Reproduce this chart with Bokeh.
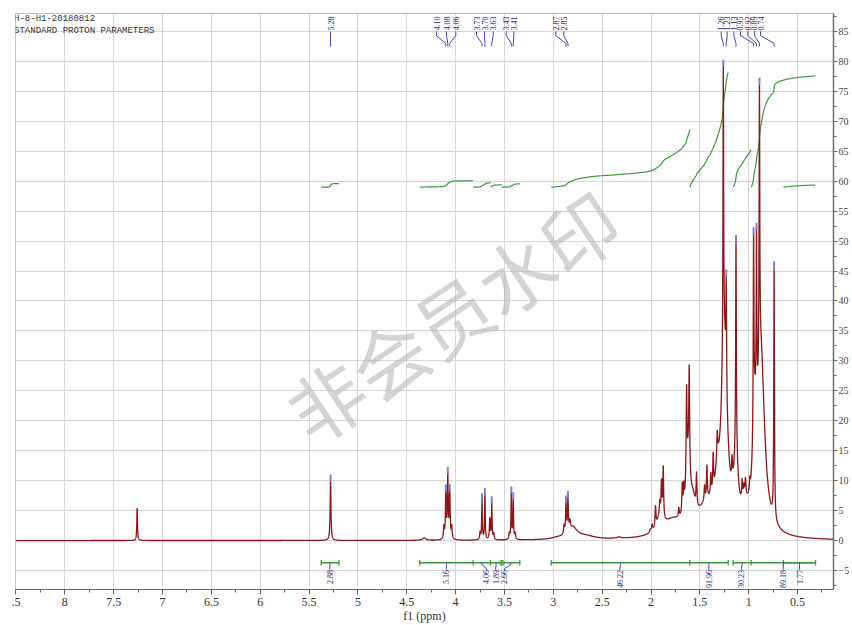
import numpy as np
from bokeh.plotting import figure
from bokeh.models import Range1d, SingleIntervalTicker, Label
from bokeh.core.properties import value
from bokeh.embed import file_html
from bokeh.resources import INLINE

# ---------------- data ----------------
# spectrum lines: centre (ppm), height (intensity), half width (ppm)
line_ppm = [7.26, 5.28, 4.32,
            4.12, 4.10, 4.08, 4.06, 4.04,
            3.75, 3.73, 3.70, 3.65, 3.63, 3.61,
            3.45, 3.43, 3.41, 3.39,
            2.89, 2.87, 2.85, 2.83, 2.80, 2.68, 2.95, 2.33,
            2.005, 1.988, 1.954, 1.91, 1.893, 1.875, 1.91, 1.78,
            1.715, 1.68, 1.664, 1.62, 1.636, 1.609, 1.57,
            1.534, 1.452, 1.428, 1.388, 1.364, 1.322, 1.43, 1.32,
            1.25, 1.26, 1.23,
            1.17, 1.13, 1.13,
            1.067, 1.05, 1.033, 0.989, 1.04,
            0.875, 0.94, 0.95, 0.92, 0.89, 0.74]
line_height = [5.4, 10.0, 0.4,
               2.0, 7.5, 10.3, 7.5, 2.0,
               1.2, 6.6, 7.5, 3.5, 6.0, 1.0,
               1.0, 7.6, 6.6, 1.0,
               1.5, 5.0, 5.5, 1.5, 1.8, 0.6, 0.3, 0.2,
               0.5, 1.0, 3.3, 2.0, 5.5, 8.5, 2.5, 2.5,
               1.5, 4.7, 3.5, 10.0, 15.0, 16.5, 3.0,
               5.5, 2.5, 5.5, 3.5, 6.0, 4.0, 4.5, 5.0,
               30.0, 47.5, 17.5,
               4.0, 10.0, 35.0,
               3.0, 1.5, 2.5, 2.0, 3.0,
               30.0, 12.0, 31.5, 28.5, 46.0, 42.0]
line_hw = [0.004, 0.005, 0.02,
           0.005, 0.005, 0.005, 0.005, 0.005,
           0.005, 0.004, 0.004, 0.005, 0.004, 0.005,
           0.005, 0.004, 0.004, 0.005,
           0.006, 0.005, 0.005, 0.006, 0.05, 0.12, 0.08, 0.03,
           0.01, 0.005, 0.005, 0.005, 0.005, 0.005, 0.04, 0.12,
           0.005, 0.005, 0.005, 0.025, 0.005, 0.005, 0.03,
           0.005, 0.005, 0.005, 0.005, 0.005, 0.005, 0.12, 0.03,
           0.035, 0.004, 0.004,
           0.006, 0.025, 0.004,
           0.005, 0.005, 0.005, 0.005, 0.04,
           0.045, 0.02, 0.004, 0.004, 0.004, 0.004]

# picked peaks (ppm)
picked_ppm = [5.28, 4.10, 4.08, 4.06, 3.73, 3.70, 3.63, 3.43, 3.41, 2.87, 2.85,
              1.26, 1.23, 1.13, 0.95, 0.92, 0.89, 0.74]

# integral regions (ppm) and values
integral_start = [5.376, 4.367, 3.820, 3.643, 3.527, 3.021, 1.603, 1.159, 0.975, 0.645]
integral_end = [5.195, 3.820, 3.643, 3.527, 3.343, 1.603, 1.210, 0.975, 0.316, 0.316]
integral_value = [2.88, 5.16, 4.06, 1.89, 2.66, 46.22, 91.96, 30.23, 89.18, 1.77]

title_lines = ["H-8-H1-20180812", "STANDARD PROTON PARAMETERS"]
x_axis_title = "f1 (ppm)"
watermark = "非会员水印"

# ---------------- layout ----------------
X_LEFT, X_RIGHT = 8.505, 0.132
Y_BOTTOM, Y_TOP = -8.17, 88.0
picked_label_x = [5.28, 4.195, 4.093, 3.998, 3.786, 3.704, 3.615, 3.482, 3.404,
                  2.974, 2.893, 1.281, 1.220, 1.152, 1.084, 1.009, 0.941, 0.879]
integral_label_x = [5.29, 4.096, 3.684, 3.59, 3.50, 2.319, 1.408, 1.074, 0.647, 0.48]
INT_BASE = 59.0
INT_SCALE = 4.8
BAR_Y = -3.7

RED = "#8B1818"
GREEN = "#3A9A3A"
BLUE_TXT = "#22227A"
BLUE_LN = "#4545A5"
MARK = "#8080CC"
SERIF = "Liberation Serif"

ppm = np.arange(X_RIGHT, X_LEFT, 0.0005)
spec = np.zeros_like(ppm)
for c, h, w in zip(line_ppm, line_height, line_hw):
    spec += h * w * w / (w * w + (ppm - c) ** 2)

p = figure(width=852, height=625,
           x_range=Range1d(X_LEFT, X_RIGHT), y_range=Range1d(Y_BOTTOM, Y_TOP),
           y_axis_location="right", output_backend="svg", toolbar_location=None,
           min_border_left=15, min_border_right=19, min_border_top=13, min_border_bottom=35)

p.background_fill_color = "white"
p.border_fill_color = "white"
p.outline_line_color = "#BEBEBE"

xa = p.xaxis[0]
xa.ticker = SingleIntervalTicker(interval=0.5, num_minor_ticks=2)
xa.major_label_overrides = {8.5: ".5"}
xa.axis_line_color = "#666666"
xa.major_tick_line_color = "#666666"
xa.minor_tick_line_color = "#666666"
xa.major_tick_in = 0
xa.major_tick_out = 5
xa.minor_tick_in = 0
xa.minor_tick_out = 3
xa.major_label_standoff = 3
xa.major_label_text_font = SERIF
xa.major_label_text_font_size = "12px"
xa.major_label_text_color = "#333333"
xa.axis_label = x_axis_title
xa.axis_label_standoff = 0
xa.axis_label_text_font = SERIF
xa.axis_label_text_font_size = "12px"
xa.axis_label_text_font_style = "normal"
xa.axis_label_text_color = "#333333"

ya = p.yaxis[0]
ya.ticker = SingleIntervalTicker(interval=5, num_minor_ticks=2)
ya.axis_line_color = "#6E6E6E"
ya.axis_line_width = 1.5
ya.major_tick_line_color = "#6E6E6E"
ya.minor_tick_line_color = "#6E6E6E"
ya.major_tick_in = 0
ya.major_tick_out = 4
ya.minor_tick_in = 0
ya.minor_tick_out = 3
ya.major_label_standoff = 1
ya.axis_label_standoff = 0
ya.major_label_text_font = SERIF
ya.major_label_text_font_size = "10px"
ya.major_label_text_color = "#444444"

p.xgrid.grid_line_color = "#D6D6D6"
p.ygrid.grid_line_color = "#D6D6D6"

# watermark
p.add_layout(Label(x=4.04, y=37.7, text=watermark, angle=0.59, angle_units="rad",
                   text_align="center", text_baseline="middle",
                   text_font="Noto Sans CJK SC", text_font_size="76px",
                   text_color="#B8B8B8", text_alpha=0.6))

# integral curves
for s, e, v in zip(integral_start, integral_end, integral_value):
    m = (ppm <= s) & (ppm >= e)
    xs = ppm[m][::-1]
    ys = spec[m][::-1]
    cum = np.cumsum(ys)
    frac = cum / cum[-1]
    p.line(xs, INT_BASE + frac * v / INT_SCALE, color=GREEN, line_width=1.2)

# spectrum
p.line(ppm, spec, color=RED, line_width=1.3)

# picked peak markers and labels
apex = [float(np.interp(x, ppm, spec)) for x in picked_ppm]
p.segment(x0=picked_ppm, y0=[a - 0.2 for a in apex], x1=picked_ppm, y1=[a + 1.0 for a in apex],
          color=MARK, line_width=2)
conn_x = [[lx, lx, px, px] for lx, px in zip(picked_label_x, picked_ppm)]
conn_y = [[85.0, 84.3, 83.0, 82.5] for _ in picked_ppm]
p.multi_line(conn_x, conn_y, color=BLUE_LN, line_width=1)
p.text(x=picked_label_x, y=[85.15] * len(picked_ppm), text=[f"{v:.2f}" for v in picked_ppm],
       angle=np.pi / 2, text_align="left", text_baseline="middle",
       text_font=value(SERIF), text_font_size="8px", text_color=BLUE_TXT)

# integral bars
p.segment(x0=integral_start, y0=[BAR_Y] * len(integral_start), x1=integral_end,
          y1=[BAR_Y] * len(integral_end), color=GREEN, line_width=1.3)
edges = sorted(set(integral_start + integral_end))
p.segment(x0=edges, y0=[BAR_Y + 0.45] * len(edges), x1=edges, y1=[BAR_Y - 0.45] * len(edges),
          color=GREEN, line_width=1.3)
p.scatter(x=[integral_start[4]], y=[BAR_Y], marker="circle", size=5,
          fill_color=None, line_color=GREEN, line_width=1)
centres = [(s + e) / 2 for s, e in zip(integral_start, integral_end)]
ic_x = [[c, c, lx, lx] for c, lx in zip(centres, integral_label_x)]
ic_y = [[BAR_Y, BAR_Y - 0.3, BAR_Y - 1.0, BAR_Y - 1.2] for _ in centres]
p.multi_line(ic_x, ic_y, color=BLUE_LN, line_width=1)
p.text(x=integral_label_x, y=[BAR_Y - 1.2] * len(centres), text=[f"{v:.2f}" for v in integral_value],
       angle=np.pi / 2, text_align="right", text_baseline="middle",
       text_font=value(SERIF), text_font_size="8px", text_color=BLUE_TXT)

# header text
for i, t in enumerate(title_lines):
    p.add_layout(Label(x=8.52, y=87.0 - 2.0 * i, text=t, text_align="left", text_baseline="middle",
                       text_font="Liberation Mono", text_font_size="9px", text_color="#333333"))

open("out.html", "w").write(file_html(p, INLINE))
